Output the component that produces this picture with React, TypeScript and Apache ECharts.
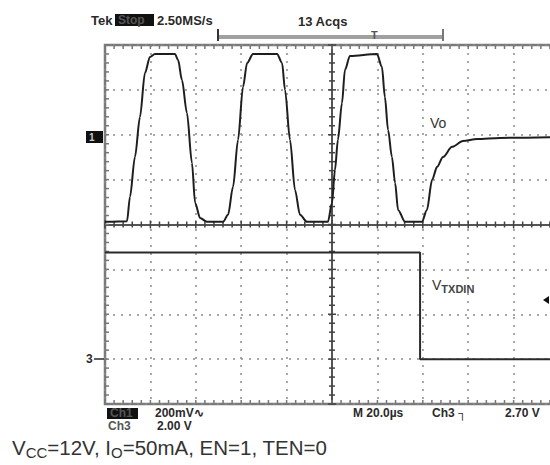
import React, { useEffect, useRef } from "react";
import * as echarts from "echarts";

// Time axis: 20 µs/div, 10 divisions, trigger at centre
const X_MIN = -100;
const X_MAX = 100;
const X_STEP = 20;
// Vertical graticule in divisions
const Y_MIN = -4;
const Y_MAX = 4;
const MINOR_PER_DIV = 5;

// Channel settings
const CH1_SCALE_MV = 200; // mV/div
const CH1_OFFSET_DIV = 2;
const CH3_SCALE_V = 2; // V/div
const CH3_OFFSET_DIV = -3;

// Vo (Ch1) trace: time in µs, value in mV
const voTime = [-100, -90.3, -89, -86.8, -84.6, -82.4, -80.2, -78, -69.2, -67.8, -66.1, -63.9, -61.7, -60.3, -58.1, -55.1, -48, -45.8, -43.6, -41.4, -39.2, -37.4, -34.8, -24.2, -22, -20.7, -18.5, -16.3, -14.1, -11, -1.8, 0, 1.3, 2.6, 4.4, 5.7, 7.9, 19.8, 22, 23.3, 24.7, 26.4, 27.8, 29.1, 32.2, 39.6, 41.8, 44.1, 46.3, 48.9, 52.9, 57.7, 63.9, 74, 100];
const voMv = [-388, -385, -277, -99, 79, 275, 347, 360, 360, 333, 244, 97, -126, -304, -371, -388, -388, -357, -232, -23, 213, 320, 360, 360, 320, 200, -23, -246, -357, -388, -388, -304, -157, -23, 142, 289, 351, 360, 302, 168, 21, -99, -215, -335, -388, -388, -335, -201, -143, -99, -54, -28, -19, -14, -10];

// VTXDIN (Ch3) trace: time in µs, value in V
const txTime = [-100, 38.8, 38.8, 100];
const txVolt = [4.75, 4.75, 0, 0];

const INK = "#2a2a2a";
const FONT = "Liberation Sans, Arial, sans-serif";

export default function App() {
  const ref = useRef<HTMLDivElement>(null);

  useEffect(() => {
    if (!ref.current) return;
    const chart = echarts.init(ref.current, null, { renderer: "svg" });

    const voData = voTime.map((t, i) => [t, voMv[i] / CH1_SCALE_MV + CH1_OFFSET_DIV]);
    const txData = txTime.map((t, i) => [t, txVolt[i] / CH3_SCALE_V + CH3_OFFSET_DIV]);

    // graticule tick marks: [x, y, kind, length]
    // kind 0: on horizontal centre line, 1: on vertical centre line,
    // 2: top frame, 3: bottom frame, 4: left frame
    const ticks: number[][] = [];
    const xMinor = X_STEP / MINOR_PER_DIV;
    const nx = Math.round((X_MAX - X_MIN) / xMinor);
    for (let i = 0; i <= nx; i++) {
      const x = X_MIN + i * xMinor;
      const major = i % MINOR_PER_DIV === 0;
      ticks.push([x, 0, 0, major ? 8 : 6]);
      ticks.push([x, Y_MAX, 2, 4]);
      ticks.push([x, Y_MIN, 3, 4]);
    }
    const yMinor = 1 / MINOR_PER_DIV;
    const ny = Math.round((Y_MAX - Y_MIN) / yMinor);
    for (let i = 0; i <= ny; i++) {
      const y = Y_MIN + i * yMinor;
      const major = i % MINOR_PER_DIV === 0;
      ticks.push([0, y, 1, major ? 8 : 6]);
      ticks.push([X_MIN, y, 4, 4]);
    }

    const dotted = { color: "#8c8c8c", width: 1.5, type: [2, 6] as any };

    const txt = (text: string, x: number, y: number, size = 12, extra: any = {}) => ({
      type: "text",
      x,
      y,
      z: 100,
      style: {
        text,
        fill: INK,
        font: `bold ${size}px ${FONT}`,
        textVerticalAlign: "middle",
        ...extra,
      },
    });

    chart.setOption({
      animation: false,
      backgroundColor: "#ffffff",
      grid: {
        left: 105,
        top: 45,
        width: 454,
        height: 359,
        show: true,
        borderColor: "#7a7a7a",
        borderWidth: 2.5,
        outerBoundsMode: "none",
        containLabel: false,
      },
      xAxis: {
        type: "value",
        min: X_MIN,
        max: X_MAX,
        interval: X_STEP,
        axisLine: { show: true, onZero: true, lineStyle: { color: "#555", width: 2 } },
        axisTick: { show: false },
        axisLabel: { show: false },
        splitLine: { show: true, lineStyle: dotted },
      },
      yAxis: {
        type: "value",
        min: Y_MIN,
        max: Y_MAX,
        interval: 1,
        axisLine: { show: true, onZero: true, lineStyle: { color: "#555", width: 2 } },
        axisTick: { show: false },
        axisLabel: { show: false },
        splitLine: { show: true, lineStyle: dotted },
      },
      series: [
        {
          name: "graticule",
          type: "custom",
          silent: true,
          clip: false,
          z: 5,
          data: ticks,
          renderItem: (params: any, api: any) => {
            const p = api.coord([api.value(0), api.value(1)]);
            const kind = api.value(2);
            const len = api.value(3);
            let shape;
            if (kind === 0) shape = { x1: p[0], y1: p[1] - len / 2, x2: p[0], y2: p[1] + len / 2 };
            else if (kind === 1) shape = { x1: p[0] - len / 2, y1: p[1], x2: p[0] + len / 2, y2: p[1] };
            else if (kind === 2) shape = { x1: p[0], y1: p[1], x2: p[0], y2: p[1] + len };
            else if (kind === 3) shape = { x1: p[0], y1: p[1], x2: p[0], y2: p[1] - len };
            else shape = { x1: p[0], y1: p[1], x2: p[0] + len, y2: p[1] };
            return {
              type: "line",
              shape,
              style: { stroke: kind <= 1 ? "#444" : "#777", lineWidth: 1.5 },
            };
          },
        },
        {
          name: "Vo",
          type: "line",
          data: voData,
          showSymbol: false,
          smooth: 0.3,
          smoothMonotone: "x",
          lineStyle: { color: "#1e1e1e", width: 2 },
          z: 10,
        },
        {
          name: "VTXDIN",
          type: "line",
          data: txData,
          showSymbol: false,
          lineStyle: { color: "#2a2a2a", width: 2 },
          z: 10,
        },
      ],
      graphic: [
        // header
        txt("Tek", 91, 20, 13),
        { type: "rect", z: 100, shape: { x: 115, y: 14, width: 39, height: 12 }, style: { fill: "#111" } },
        txt("Stop", 118, 20, 12, { fill: "#555" }),
        txt("2.50MS/s", 157, 20, 13),
        txt("13 Acqs", 298, 21, 13),
        // record bar
        { type: "line", z: 100, shape: { x1: 218, y1: 37, x2: 443, y2: 37 }, style: { stroke: "#a0a0a0", lineWidth: 4 } },
        { type: "line", z: 100, shape: { x1: 218, y1: 29, x2: 218, y2: 41 }, style: { stroke: "#333", lineWidth: 2 } },
        { type: "line", z: 100, shape: { x1: 443, y1: 29, x2: 443, y2: 41 }, style: { stroke: "#777", lineWidth: 2 } },
        txt("T", 371, 35, 11, { fill: "#555" }),
        // channel ground markers
        { type: "rect", z: 100, shape: { x: 86, y: 131, width: 17, height: 12 }, style: { fill: "#111" } },
        txt("1", 89, 137, 10, { fill: "#ccc" }),
        txt("3", 86, 359, 12),
        { type: "line", z: 100, shape: { x1: 94, y1: 359, x2: 104, y2: 359 }, style: { stroke: INK, lineWidth: 1.5 } },
        // trace labels
        { type: "text", x: 430, y: 123, z: 100, style: { text: "Vo", fill: "#333", font: `14px ${FONT}`, textVerticalAlign: "middle" } },
        {
          type: "text",
          x: 432,
          y: 278,
          z: 100,
          style: {
            text: "{v|V}{s|TXDIN}",
            fill: "#333",
            rich: {
              v: { fontSize: 14, fontFamily: FONT, lineHeight: 16, verticalAlign: "top", fill: "#333" },
              s: { fontSize: 11, fontFamily: FONT, fontWeight: "bold", lineHeight: 10, verticalAlign: "bottom", fill: "#444" },
            },
          },
        },
        { type: "polygon", z: 100, shape: { points: [[543, 300], [549, 296], [549, 304]] }, style: { fill: "#111" } },
        // footer
        { type: "rect", z: 100, shape: { x: 107, y: 408, width: 31, height: 11 }, style: { fill: "#111" } },
        txt("Ch1", 110, 413, 12, { fill: "#555" }),
        txt("200mV\u223F", 155, 413, 12),
        txt("Ch3", 108, 426, 12, { fill: "#555" }),
        txt("2.00 V", 157, 426, 12),
        txt("M 20.0\u00B5s", 353, 413, 12),
        txt("Ch3 \u2510", 432, 413, 12),
        txt("2.70 V", 505, 413, 12),
        // caption
        {
          type: "text",
          x: 12,
          y: 437,
          z: 100,
          style: {
            text: "{v|V}{s|CC}{v|=12V, I}{s|O}{v|=50mA, EN=1, TEN=0}",
            rich: {
              v: { fontSize: 20.5, fontFamily: FONT, lineHeight: 23, verticalAlign: "top", fill: "#333" },
              s: { fontSize: 15, fontFamily: FONT, lineHeight: 12, verticalAlign: "bottom", fill: "#333" },
            },
          },
        },
      ],
    });

    return () => chart.dispose();
  }, []);

  return (
    <div
      ref={ref}
      style={{ position: "absolute", left: 0, top: 0, width: 550, height: 465, background: "#fff" }}
    />
  );
}
